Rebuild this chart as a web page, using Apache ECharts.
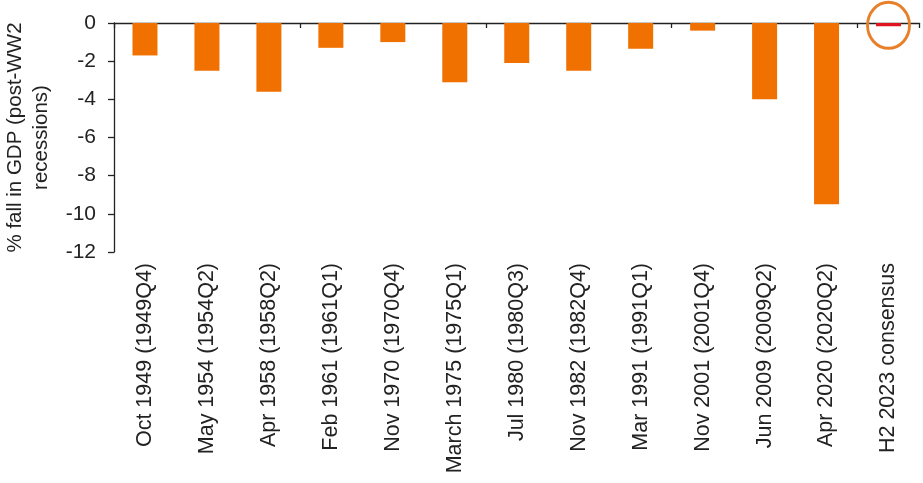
<!DOCTYPE html>
<html><head><meta charset="utf-8">
<script src="https://cdn.jsdelivr.net/npm/echarts@6/dist/echarts.min.js"></script>
<style>html,body{margin:0;padding:0;background:#fff}#c{width:923px;height:483px}</style>
</head><body><div id="c"></div>
<script>
const categories = ["Oct 1949 (1949Q4)","May 1954 (1954Q2)","Apr 1958 (1958Q2)","Feb 1961 (1961Q1)","Nov 1970 (1970Q4)","March 1975 (1975Q1)","Jul 1980 (1980Q3)","Nov 1982 (1982Q4)","Mar 1991 (1991Q1)","Nov 2001 (2001Q4)","Jun 2009 (2009Q2)","Apr 2020 (2020Q2)","H2 2023 consensus"];
const gdpFall = [-1.7,-2.5,-3.6,-1.3,-1.0,-3.1,-2.1,-2.5,-1.35,-0.4,-4.0,-9.5,-0.17];
const highlightIndex = 12;
const highlightPoint = ["H2 2023 consensus", -0.12];
const yTitle = "% fall in GDP (post-WW2\nrecessions)";

const font = "Liberation Sans, Arial, sans-serif";
const chart = echarts.init(document.getElementById('c'), null, {renderer:'canvas'});
chart.setOption({
  animation:false,
  grid:{left:114,top:23,right:3.5,bottom:231,outerBoundsMode:'none',containLabel:false},
  xAxis:[{
    type:'category',data:categories,position:'bottom',
    axisLine:{show:false,onZero:false},axisTick:{show:false},
    axisLabel:{rotate:90,margin:11,fontSize:21.5,color:'#222',fontFamily:font,interval:0}
  },{
    type:'category',data:categories,position:'top',
    axisLine:{show:true,onZero:false,lineStyle:{color:'#222',width:1.3}},
    axisTick:{show:true,inside:true,length:5,lineStyle:{color:'#222',width:1.3}},
    axisLabel:{show:false}
  }],
  yAxis:{
    type:'value',min:-12,max:0,interval:2,
    name:yTitle,nameLocation:'middle',nameGap:54,
    nameTextStyle:{fontSize:20.5,color:'#222',fontFamily:font,lineHeight:26},
    axisLine:{show:true,lineStyle:{color:'#222',width:1.3}},
    axisTick:{show:true,length:6,lineStyle:{color:'#222',width:1.3}},
    axisLabel:{fontSize:21,color:'#222',fontFamily:font,margin:18},
    splitLine:{show:false}
  },
  series:[{
    type:'bar',xAxisIndex:0,barWidth:25,
    data:gdpFall.map((v,i)=>({value:v,itemStyle:{color:i===highlightIndex?'#E0141E':'#F07100'}}))
  },{
    type:'scatter',xAxisIndex:0,clip:false,z:5,silent:true,
    symbol:'circle',symbolSize:[42,46],
    itemStyle:{color:'rgba(0,0,0,0)',borderColor:'#E8802A',borderWidth:3,opacity:1},
    data:[highlightPoint]
  }]
});
</script></body></html>
